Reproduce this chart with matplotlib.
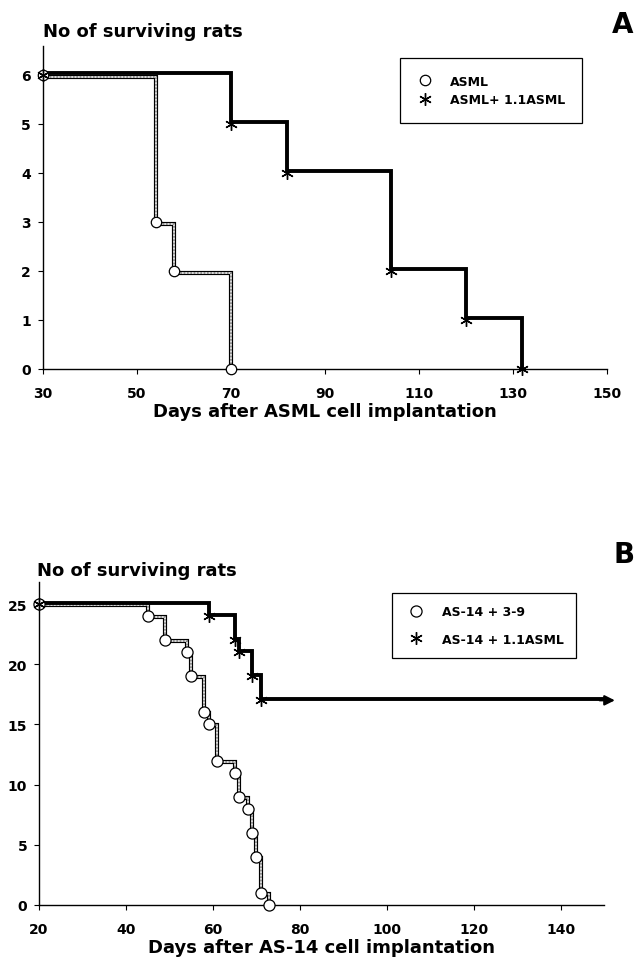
import matplotlib
matplotlib.use("Agg")
import matplotlib.pyplot as plt
from matplotlib.transforms import offset_copy

plt.rcParams['font.family'] = ['DejaVu Sans']
plt.rcParams['font.weight'] = 'bold'
plt.rcParams['axes.labelweight'] = 'bold'

# ---------------- data ----------------
# Panel A
a_days_asml = [30, 54, 58, 70]
a_surv_asml = [6, 3, 2, 0]
a_days_comb = [30, 70, 82, 104, 120, 132]
a_surv_comb = [6, 5, 4, 2, 1, 0]
a_labels = ["ASML", "ASML+ 1.1ASML"]
a_xticks = [30, 50, 70, 90, 110, 130, 150]
a_yticks = [0, 1, 2, 3, 4, 5, 6]

# Panel B
b_days_39 = [20, 45, 49, 54, 55, 58, 59, 61, 65, 66, 68, 69, 70, 71, 73]
b_surv_39 = [25, 24, 22, 21, 19, 16, 15, 12, 11, 9, 8, 6, 4, 1, 0]
b_days_comb = [20, 59, 65, 66, 69, 71]
b_surv_comb = [25, 24, 22, 21, 19, 17]
b_followup_end = 150
b_labels = ["AS-14 + 3-9", "AS-14 + 1.1ASML"]
b_xticks = [20, 40, 60, 80, 100, 120, 140]
b_yticks = [0, 5, 10, 15, 20, 25]

W, H = 637, 962
fig = plt.figure(figsize=(W / 100, H / 100), dpi=100)

axA = fig.add_axes([42.7 / W, (H - 370) / H, (607 - 42.7) / W, (370 - 47) / H])
axB = fig.add_axes([39 / W, (H - 906) / H, (604 - 39) / W, (906 - 583) / H])

axA.set_xlim(30, 150)
axA.set_ylim(0, 6.59)
axB.set_xlim(20, 150)
axB.set_ylim(0, 26.83)

STAR = (6, 2, 0)


def grey_step(ax, x, y, dy):
    tr = offset_copy(ax.transData, fig=fig, x=0, y=dy, units='dots')
    ax.step(x, y, where='post', color='black', lw=3.0, transform=tr, zorder=2,
            solid_joinstyle='miter', clip_on=False)
    ax.step(x, y, where='post', color='white', lw=1.2, transform=tr, zorder=2.1,
            clip_on=False)
    ax.step(x, y, where='post', color='#808080', lw=1.2, transform=tr, zorder=2.2,
            linestyle=(0, (1.0, 1.0)), clip_on=False)


def black_step(ax, x, y, dy):
    tr = offset_copy(ax.transData, fig=fig, x=0, y=dy, units='dots')
    ax.step(x, y, where='post', color='black', lw=2.8, transform=tr, zorder=2.5,
            solid_joinstyle='miter', clip_on=False)


# ---------- Panel A ----------
grey_step(axA, a_days_asml, a_surv_asml, -2)
black_step(axA, a_days_comb, a_surv_comb, 2)
axA.plot(a_days_asml, a_surv_asml, ls='none', marker='o', ms=7.5, mfc='white',
         mec='black', mew=0.9, zorder=4, clip_on=False, label=a_labels[0])
axA.plot(a_days_comb, a_surv_comb, ls='none', marker=STAR, ms=9, color='black',
         mew=1.0, zorder=4, clip_on=False, label=a_labels[1])

# ---------- Panel B ----------
grey_step(axB, b_days_39, b_surv_39, -1)
black_step(axB, b_days_comb + [b_followup_end], b_surv_comb + [b_surv_comb[-1]], 1)
axB.annotate('', xy=(b_followup_end + 2.5, b_surv_comb[-1]),
             xytext=(b_followup_end - 1, b_surv_comb[-1]),
             arrowprops=dict(arrowstyle='-|>,head_length=0.6,head_width=0.3',
                             color='black', lw=1.5, shrinkA=0, shrinkB=0),
             annotation_clip=False)
axB.plot(b_days_39, b_surv_39, ls='none', marker='o', ms=8, mfc='white',
         mec='black', mew=0.9, zorder=4, clip_on=False, label=b_labels[0])
axB.plot(b_days_comb, b_surv_comb, ls='none', marker=STAR, ms=9, color='black',
         mew=1.0, zorder=4, clip_on=False, label=b_labels[1])

for ax, xt, yt in ((axA, a_xticks, a_yticks), (axB, b_xticks, b_yticks)):
    ax.spines['top'].set_visible(False)
    ax.spines['right'].set_visible(False)
    for s in ('left', 'bottom'):
        ax.spines[s].set_linewidth(1.0)
    ax.set_xticks(xt)
    ax.set_yticks(yt)
    ax.tick_params(axis='both', direction='out', length=3.5, width=0.8,
                   labelsize=10)
    ax.tick_params(axis='x', pad=8.5)
    ax.tick_params(axis='y', pad=5)

axA.set_xlabel('Days after ASML cell implantation', fontsize=13, labelpad=2)
axB.set_xlabel('Days after AS-14 cell implantation', fontsize=13, labelpad=1.5)

fig.text(43 / W, 1 - 37 / H, 'No of surviving rats', fontsize=13,
         ha='left', va='baseline')
fig.text(37 / W, 1 - 576 / H, 'No of surviving rats', fontsize=13,
         ha='left', va='baseline')
fig.text(623 / W, 1 - 25 / H, 'A', fontsize=20, ha='center', va='center')
fig.text(624 / W, 1 - 555 / H, 'B', fontsize=20, ha='center', va='center')

legA = axA.legend(loc='upper left', bbox_to_anchor=(400 / W, 1 - 59 / H),
                  bbox_transform=fig.transFigure, borderaxespad=0, fontsize=9,
                  frameon=True, fancybox=False, edgecolor='black',
                  borderpad=1.34, labelspacing=0.44, handlelength=1.3,
                  handletextpad=1.36, framealpha=1)
legA.get_frame().set_linewidth(0.9)
legB = axB.legend(loc='upper left', bbox_to_anchor=(392 / W, 1 - 594 / H),
                  bbox_transform=fig.transFigure, borderaxespad=0, fontsize=9,
                  frameon=True, fancybox=False, edgecolor='black',
                  borderpad=0.98, labelspacing=1.16, handlelength=1.88,
                  handletextpad=1.14, framealpha=1)
legB.get_frame().set_linewidth(0.9)

fig.savefig('out.png', dpi=100)
